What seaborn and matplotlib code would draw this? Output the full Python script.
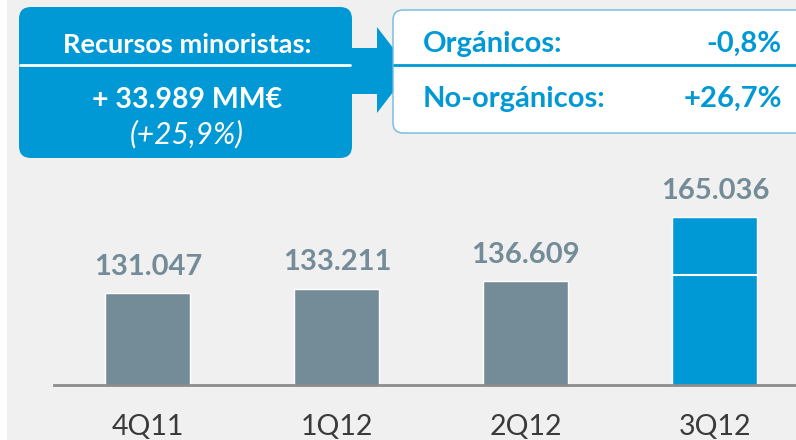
import matplotlib
matplotlib.use("Agg")
import matplotlib.pyplot as plt
from matplotlib.patches import FancyBboxPatch, Rectangle, Polygon
import seaborn as sns

quarters = ["4Q11", "1Q12", "2Q12", "3Q12"]
values = [131047, 133211, 136609, 165036]
split_3q12 = 139200  # estimated level of the white line in the last bar

header = "Recursos minoristas:"
total_txt = "+ 33.989 MM€"
total_pct = "(+25,9%)"
breakdown = [("Orgánicos:", "-0,8%"), ("No-orgánicos:", "+26,7%")]

GREY = "#748b98"
BLUE = "#0099d5"
BG = "#f0f0f0"
FONT = ["Lato", "DejaVu Sans"]

sns.set_theme(style="white")
plt.rcParams["font.family"] = FONT

fig = plt.figure(figsize=(7.96, 4.40), dpi=100, facecolor=BG)
ax = fig.add_axes([54 / 796, 55 / 440, 1 - 54 / 796, 385 / 440])
ax.set_facecolor(BG)

colors = [GREY, GREY, GREY, BLUE]
sns.barplot(x=quarters, y=values, hue=quarters, palette=colors, legend=False,
            width=0.45, saturation=1, ax=ax)
ax.set_ylim(90130, 90130 + 385 / 2.2396 * 1000)
ax.set_xlim(-0.497, 3.429)
ax.hlines(split_3q12, 3 - 0.225, 3 + 0.225, color="white", lw=1.5, zorder=5)

for i, v in enumerate(values):
    ax.annotate(f"{v:,}".replace(",", "."), (i, v), xytext=(0, 13),
                textcoords="offset points", ha="center", va="baseline",
                fontsize=21, fontweight="bold", color=GREY)

for s in ["top", "left", "right"]:
    ax.spines[s].set_visible(False)
ax.spines["bottom"].set_color("#8c8c8c")
ax.spines["bottom"].set_linewidth(2)
ax.set_yticks([])
ax.set_xlabel("")
ax.set_ylabel("")
ax.tick_params(axis="x", length=0, pad=21, labelsize=20.5, labelcolor="#3a3a3a")

# overlay in pixel coordinates for the boxes
ov = fig.add_axes([0, 0, 1, 1], zorder=10)
ov.set_xlim(0, 796)
ov.set_ylim(440, 0)
ov.axis("off")
ov.patch.set_alpha(0)

ov.add_patch(Rectangle((0, 0), 7, 440, color="white", lw=0))

ov.add_patch(FancyBboxPatch((19, 7), 333, 151, boxstyle="round,pad=0,rounding_size=12",
                            fc=BLUE, ec="none"))
ov.plot([20, 350], [65, 65], color="white", lw=2)
ov.text(187, 45, header, ha="center", va="center", color="white",
        fontsize=19.5, fontweight="bold")
ov.text(187, 100, total_txt, ha="center", va="center", color="white",
        fontsize=20.5, fontweight="bold")
ov.text(187, 134, total_pct, ha="center", va="center", color="white",
        fontsize=21.5, style="italic")

ov.add_patch(Polygon([(352, 48), (377, 48), (377, 27), (410, 70), (377, 113),
                      (377, 94), (352, 94)], closed=True, fc=BLUE, ec="none"))

ov.add_patch(FancyBboxPatch((393, 10), 420, 123, boxstyle="round,pad=0,rounding_size=10",
                            fc="white", ec="#6fb8de", lw=1))
ov.plot([394, 796], [65, 65], color=BLUE, lw=2)
for k, (lab, pct) in enumerate(breakdown):
    yy = 44 + 55 * k
    ov.text(423, yy, lab, ha="left", va="center", color=BLUE,
            fontsize=21, fontweight="bold")
    ov.text(782, yy, pct, ha="right", va="center", color=BLUE,
            fontsize=21, fontweight="bold")

fig.savefig("out.png", dpi=100, facecolor=BG)
